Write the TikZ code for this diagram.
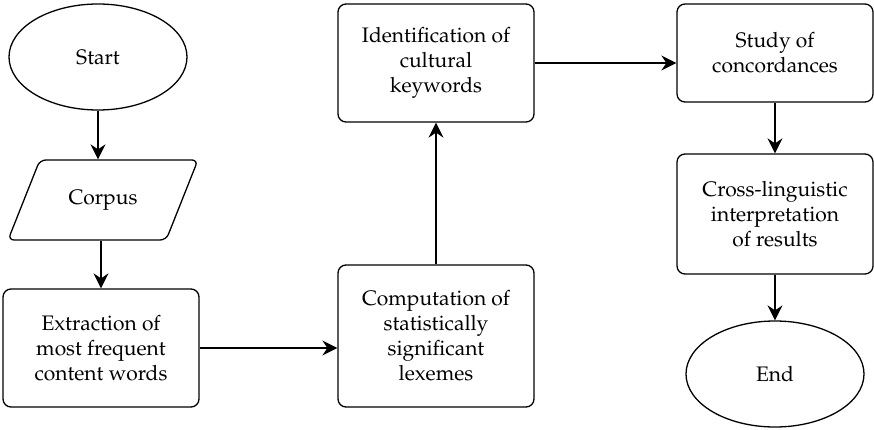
\documentclass[tikz,border=0pt]{standalone}
\usepackage[T1]{fontenc}
\usepackage{palatino}
\usetikzlibrary{arrows.meta,shapes.geometric}
\begin{document}
\begin{tikzpicture}[x=1pt, y=-1pt, >={Stealth[length=15pt,width=15pt,inset=5pt]},
  every node/.style={font=\fontsize{21}{25}\selectfont, align=center},
  term/.style={draw, line width=1.3pt, ellipse, minimum width=178pt, minimum height=106pt},
  proc/.style={draw, line width=1.3pt, rounded corners=8pt, minimum width=196pt},
  io/.style={draw, line width=1.3pt, rounded corners=6pt, trapezium, trapezium left angle=55,
    trapezium right angle=125, trapezium stretches=true, minimum width=190pt, minimum height=80pt},
  flow/.style={->, line width=1.3pt}]
  \useasboundingbox (0,0) rectangle (874,430);
  \node[term] (start) at (98,57) {Start};
  \node[io] (corpus) at (103,200) {Corpus};
  \node[proc, minimum height=118pt] (extract) at (101,348) {Extraction of\\most frequent\\content words};
  \node[proc, minimum height=142pt] (compute) at (436,336) {Computation of\\statistically\\significant\\lexemes};
  \node[proc, minimum height=118pt] (ident) at (436,63) {Identification of\\cultural\\keywords};
  \node[proc, minimum height=98pt] (study) at (775,53) {Study of\\concordances};
  \node[proc, minimum height=120pt] (cross) at (775,214) {Cross-linguistic\\interpretation\\of results};
  \node[term] (end) at (775,374) {End};
  \draw[flow] (start.south) -- (corpus.north -| start.south);
  \draw[flow] (corpus.south -| extract.north) -- (extract.north);
  \draw[flow] (extract.east) -- (compute.west |- extract.east);
  \draw[flow] (compute.north) -- (ident.south);
  \draw[flow] (ident.east) -- (study.west |- ident.east);
  \draw[flow] (study.south) -- (cross.north);
  \draw[flow] (cross.south) -- (end.north);
\end{tikzpicture}
\end{document}
